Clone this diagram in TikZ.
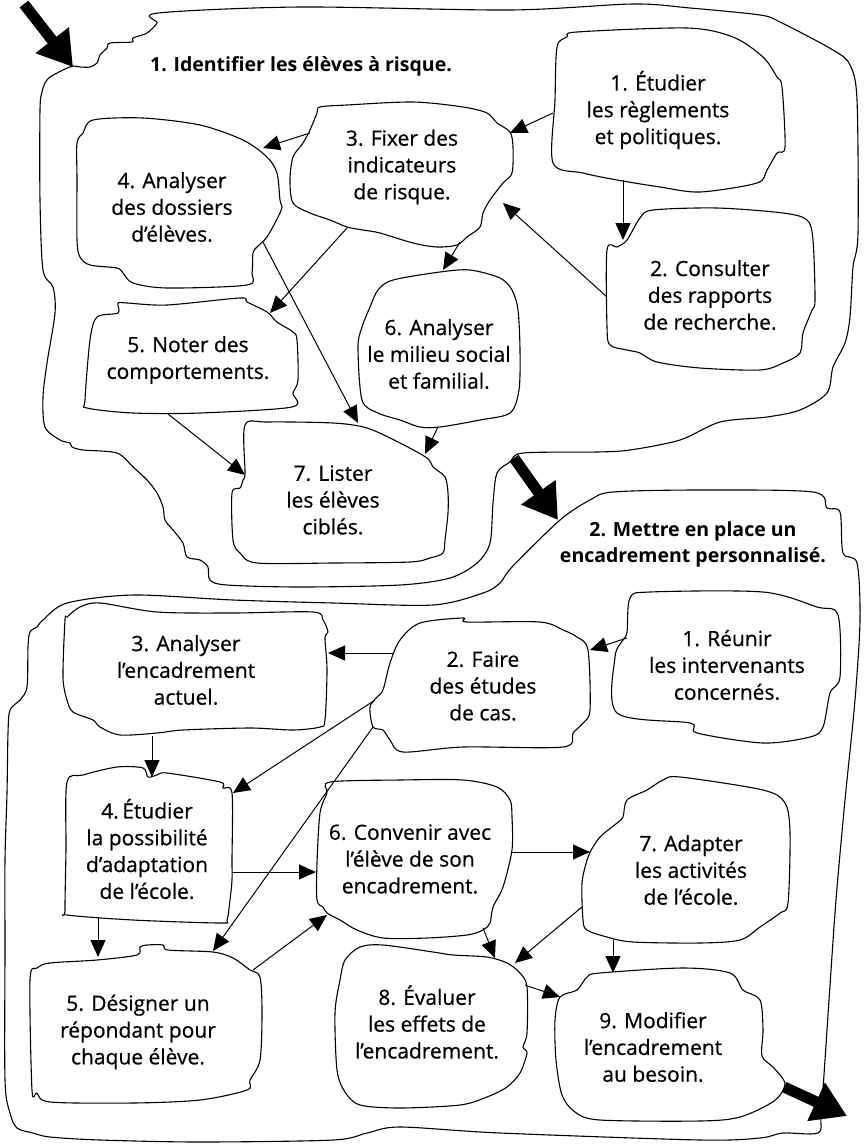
\documentclass[tikz,border=0pt]{standalone}
\usepackage{fontspec}
\setmainfont{Open Sans}
\newfontfamily\boxfont{Open Sans}[FakeBold=0.6]
\usetikzlibrary{arrows.meta}
\begin{document}
\begin{tikzpicture}[x=1pt,y=-1pt,
 blob/.style={draw=black,line width=1.1pt,line join=round},
 lbl/.style={align=center,inner sep=0pt,font=\boxfont\fontsize{21}{26.8}\selectfont},
 glbl/.style={align=center,inner sep=0pt,font=\fontsize{19.5}{26}\selectfont\bfseries},
 arr/.style={line width=1pt,-{Triangle[length=17pt,width=15pt]}},
 bigarr/.style={line width=11pt,-{Triangle[length=34pt,width=40pt]}}]
\useasboundingbox (0,0) rectangle (867,1144);

% ---------- group outlines ----------
\draw[blob] plot[smooth cycle,tension=0.5] coordinates {
(73,66) (80,67) (90,67) (97,63) (100,55) (107,48) (110,43) (132,42) (133,38) (147,33) (157,23) (158,13) (300,7) (510,10) (633,4) (690,8) (760,15) (780,22) (833,50) (850,65) (857,100) (858,233) (853,267) (850,317) (845,343) (833,367) (827,393) (800,410) (767,417) (720,422) (680,440) (630,450) (597,452) (523,453) (510,462) (497,473) (493,503) (490,543) (477,563) (450,578) (400,585) (300,587) (227,585) (210,580) (208,567) (200,560) (187,557) (183,543) (173,530) (165,520) (163,507) (157,493) (147,480) (133,467) (117,453) (83,450) (72,447) (70,443) (60,440) (45,427) (43,397) (47,363) (55,313) (53,287) (43,270) (40,200) (40,110) (42,92) (45,83) (50,77) (63,70)};

\draw[blob] plot[smooth cycle,tension=0.5] coordinates {
(560,520) (590,500) (613,492) (700,490) (813,492) (827,508) (840,512) (843,553) (857,563) (860,620) (855,700) (845,800) (836,900) (829,1000) (825,1060) (821,1115) (818,1133) (783,1133) (760,1138) (700,1140) (500,1133) (400,1127) (367,1133) (333,1140) (200,1142) (100,1140) (50,1137) (33,1133) (17,1128) (10,1113) (5,1080) (5,947) (5,860) (7,793) (8,733) (10,710) (20,700) (27,687) (28,647) (30,632) (37,627) (43,620) (67,603) (133,595) (233,600) (333,603) (433,605) (483,593) (500,583) (512,567)};

% ---------- group 1 boxes ----------
\draw[blob] plot[smooth cycle,tension=0.5] coordinates {(577,32) (687,28) (733,37) (763,57) (777,77) (782,87) (785,147) (777,153) (767,170) (757,183) (700,192) (660,187) (617,180) (583,173) (553,163) (555,100) (557,47) (567,37)};
\draw[blob] plot[smooth cycle,tension=0.5] coordinates {(640,218) (653,210) (717,208) (783,213) (807,220) (813,240) (815,300) (812,310) (803,333) (800,353) (783,363) (760,370) (700,368) (657,362) (640,353) (627,350) (610,345) (607,327) (607,250) (617,247) (627,240)};
\draw[blob] plot[smooth cycle,tension=0.5] coordinates {(320,107) (347,105) (413,102) (463,107) (487,113) (497,123) (510,132) (513,147) (512,173) (503,183) (490,200) (483,213) (480,227) (467,237) (457,245) (437,247) (413,243) (380,233) (363,230) (347,227) (330,220) (310,213) (293,203) (290,180) (293,157) (303,143) (310,130) (317,113)};
\draw[blob] plot[smooth cycle,tension=0.5] coordinates {(93,120) (143,118) (200,125) (243,140) (267,157) (277,173) (280,200) (282,207) (278,217) (267,237) (257,247) (253,253) (252,273) (247,285) (167,288) (133,283) (123,273) (117,268) (90,265) (80,257) (77,240) (77,180) (77,143) (83,133)};
\draw[blob] plot[smooth cycle,tension=0.5] coordinates {(97,317) (118,313) (118,303) (127,303) (167,305) (240,298) (247,302) (267,312) (277,322) (293,332) (297,340) (298,380) (293,393) (292,407) (200,413) (133,413) (87,408) (85,400) (90,340)};
\draw[blob] plot[smooth cycle,tension=0.5] coordinates {(440,272) (470,270) (500,278) (512,290) (518,310) (520,350) (519,390) (510,413) (480,420) (440,427) (420,427) (400,420) (378,413) (362,400) (358,347) (362,327) (370,307) (378,290) (393,280)};
\draw[blob] plot[smooth cycle,tension=0.5] coordinates {(245,425) (267,422) (333,423) (367,428) (400,443) (427,458) (433,467) (445,477) (448,493) (448,513) (445,540) (443,553) (430,558) (410,562) (333,563) (257,563) (240,553) (233,540) (232,493) (240,488) (243,480) (245,473)};

% ---------- group 2 boxes ----------
\draw[blob] plot[smooth cycle,tension=0.5] coordinates {(630,598) (650,592) (763,592) (817,607) (838,615) (840,677) (830,693) (823,727) (810,737) (763,743) (697,733) (690,723) (617,713) (615,657) (623,640) (627,632)};
\draw[blob] plot[smooth cycle,tension=0.5] coordinates {(420,623) (463,618) (467,622) (540,622) (563,630) (577,637) (588,650) (590,710) (583,723) (573,733) (563,747) (463,747) (403,752) (390,740) (383,730) (373,727) (370,707) (377,697) (383,690) (390,663) (400,640)};
\draw[blob] plot[smooth cycle,tension=0.5] coordinates {(80,607) (100,603) (157,612) (233,613) (313,612) (323,620) (328,632) (325,638) (327,670) (325,720) (320,727) (293,730) (250,728) (183,730) (157,733) (120,735) (100,727) (93,720) (73,712) (67,700) (63,677) (65,620) (67,617)};
\draw[blob] plot[smooth cycle,tension=0.5] coordinates {(67,782) (83,775) (117,767) (143,768) (148,777) (157,775) (167,773) (220,782) (223,788) (232,793) (232,860) (232,880) (230,900) (227,920) (220,923) (133,920) (67,915) (65,910) (66,850)};
\draw[blob] plot[smooth cycle,tension=0.5] coordinates {(37,968) (50,963) (97,960) (137,955) (140,947) (147,945) (163,945) (168,950) (213,952) (233,958) (250,970) (260,977) (262,1013) (260,1060) (250,1080) (247,1090) (200,1100) (133,1103) (50,1102) (37,1093) (32,1090) (30,980)};
\draw[blob] plot[smooth cycle,tension=0.5] coordinates {(330,782) (400,780) (463,780) (497,787) (510,800) (512,817) (512,850) (503,887) (493,907) (490,923) (483,930) (467,935) (427,938) (383,938) (357,930) (340,920) (327,913) (323,907) (317,900) (317,863) (320,813) (327,793)};
\draw[blob] plot[smooth cycle,tension=0.5] coordinates {(627,800) (647,790) (663,780) (680,777) (763,790) (785,803) (790,833) (788,903) (780,913) (760,927) (740,940) (700,943) (633,942) (607,937) (587,930) (583,920) (582,883) (587,860) (590,852) (600,837) (617,823) (623,817)};
\draw[blob] plot[smooth cycle,tension=0.5] coordinates {(360,947) (383,945) (433,952) (453,955) (487,957) (507,963) (520,973) (527,987) (527,1033) (523,1047) (527,1053) (520,1073) (507,1087) (487,1097) (460,1105) (400,1108) (360,1105) (345,1092) (337,1070) (335,1013) (340,980) (345,960)};
\draw[blob] plot[smooth cycle,tension=0.5] coordinates {(560,997) (577,990) (587,977) (600,973) (683,968) (730,973) (743,990) (760,1000) (763,1030) (762,1056) (774,1068) (785,1084) (774,1101) (740,1117) (700,1121) (600,1120) (575,1112) (562,1095) (556,1060) (555,1020)};

% ---------- labels ----------
\node[glbl] (g1) at (301,66) {1. Identifier les élèves à risque.};
\node[glbl] (g2) at (693,544) {2. Mettre en place un\\encadrement personnalisé.};

\node[lbl] (b1) at (658,110) {1. Étudier\\les règlements\\et politiques.};
\node[lbl] (b2) at (710,295) {2. Consulter\\des rapports\\de recherche.};
\node[lbl] (b3) at (402,167) {3. Fixer des\\indicateurs\\de risque.};
\node[lbl] (b4) at (172,207) {4. Analyser\\des dossiers\\d’élèves.};
\node[lbl] (b5) at (188,360) {5. Noter des\\comportements.};
\node[lbl] (b6) at (439,354) {6. Analyser\\le milieu social\\et familial.};
\node[lbl] (b7) at (333,500) {7. Lister\\les élèves\\ciblés.};

\node[lbl] (r1) at (727,665) {1. Réunir\\les intervenants\\concernés.};
\node[lbl] (r2) at (483,686) {2. Faire\\des études\\de cas.};
\node[lbl] (r3) at (186,670) {3. Analyser\\l’encadrement\\actuel.};
\node[lbl] (r4) at (147,849) {4.\,Étudier\\la possibilité\\d’adaptation\\de l’école.};
\node[lbl] (r5) at (138,1032) {5. Désigner un\\répondant pour\\chaque élève.};
\node[lbl] (r6) at (410,859) {6. Convenir avec\\l’élève de son\\encadrement.};
\node[lbl] (r7) at (691,870) {7. Adapter\\les activités\\de l’école.};
\node[lbl] (r8) at (427,1022) {8. Évaluer\\les effets de\\l’encadrement.};
\node[lbl] (r9) at (653,1047) {9. Modifier\\l’encadrement\\au besoin.};

% ---------- connector end points ----------
\coordinate (b1o3) at (553,113); \coordinate (b3i1) at (510,133);
\coordinate (b1o2) at (623,180); \coordinate (b2i1) at (623,240);
\coordinate (b2o3) at (607,297); \coordinate (b3i2) at (503,203);
\coordinate (b3o4) at (310,133); \coordinate (b4i3) at (263,148);
\coordinate (b3o6) at (460,242); \coordinate (b6i3) at (443,270);
\coordinate (b3o5) at (347,228); \coordinate (b5i3) at (270,313);
\coordinate (b4o7) at (263,242); \coordinate (b7i4) at (358,423);
\coordinate (b5o7) at (168,414); \coordinate (b7i5) at (245,475);
\coordinate (b6o7) at (438,427); \coordinate (b7i6) at (425,454);

\coordinate (r1o2) at (627,638); \coordinate (r2i1) at (590,650);
\coordinate (r2o3) at (393,653); \coordinate (r3i2) at (328,653);
\coordinate (r2o4) at (375,700); \coordinate (r4i2) at (233,793);
\coordinate (r2o5) at (373,727); \coordinate (r5i2) at (213,951);
\coordinate (r3o4) at (152,736); \coordinate (r4i3) at (152,777);
\coordinate (r4o5) at (98,918); \coordinate (r5i4) at (98,957);
\coordinate (r4o6) at (232,872); \coordinate (r6i4) at (316,872);
\coordinate (r5o6) at (253,970); \coordinate (r6i5) at (327,915);
\coordinate (r6o7) at (512,852); \coordinate (r7i6) at (590,852);
\coordinate (r6o8) at (483,928); \coordinate (r8i6) at (495,958);
\coordinate (r7o8) at (582,907); \coordinate (r8i7) at (515,963);
\coordinate (r7o9) at (613,940); \coordinate (r9i7) at (613,973);
\coordinate (r8o9) at (525,985); \coordinate (r9i8) at (560,997);

\coordinate (s1) at (24,4);     \coordinate (g1in) at (73,67);
\coordinate (g1out) at (514,458); \coordinate (g2in) at (558,520);
\coordinate (g2out) at (784,1087); \coordinate (endpt) at (847,1116);

% ---------- connectors ----------
\draw[arr] (b1o3) -- (b3i1);
\draw[arr] (b1o2) -- (b2i1);
\draw[arr] (b2o3) -- (b3i2);
\draw[arr] (b3o4) -- (b4i3);
\draw[arr] (b3o6) -- (b6i3);
\draw[arr] (b3o5) -- (b5i3);
\draw[arr] (b4o7) -- (b7i4);
\draw[arr] (b5o7) -- (b7i5);
\draw[arr] (b6o7) -- (b7i6);

\draw[arr] (r1o2) -- (r2i1);
\draw[arr] (r2o3) -- (r3i2);
\draw[arr] (r2o4) -- (r4i2);
\draw[arr] (r2o5) -- (r5i2);
\draw[arr] (r3o4) -- (r4i3);
\draw[arr] (r4o5) -- (r5i4);
\draw[arr] (r4o6) -- (r6i4);
\draw[arr] (r5o6) -- (r6i5);
\draw[arr] (r6o7) -- (r7i6);
\draw[arr] (r6o8) -- (r8i6);
\draw[arr] (r7o8) -- (r8i7);
\draw[arr] (r7o9) -- (r9i7);
\draw[arr] (r8o9) -- (r9i8);

\draw[bigarr] (s1) -- (g1in);
\draw[bigarr] (g1out) -- (g2in);
\draw[bigarr] (g2out) -- (endpt);
\end{tikzpicture}
\end{document}
